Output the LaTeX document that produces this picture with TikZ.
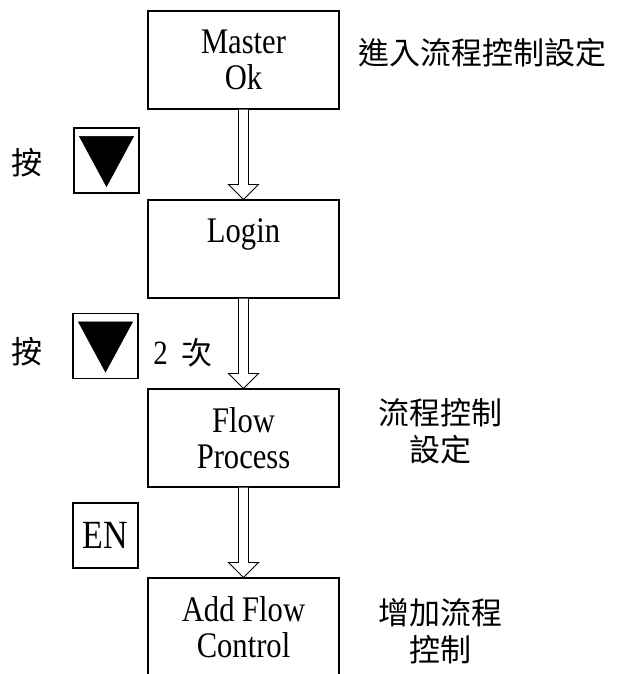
\documentclass[tikz,border=0pt]{standalone}
\usepackage{fontspec}
\setmainfont{Liberation Serif}[FakeStretch=0.85]
\newfontfamily\cjk{Noto Sans CJK TC}
\usetikzlibrary{calc}
\tikzset{
  box/.style={draw, line width=1.1pt, inner sep=0pt, align=center, minimum width=191pt, minimum height=98pt, font=\fontsize{36}{36}\selectfont},
  keybox/.style={draw, line width=1.1pt, inner sep=0pt, minimum width=65pt, minimum height=65pt, font=\fontsize{40}{40}\selectfont},
  cjklabel/.style={inner sep=0pt, align=center, font=\cjk\fontsize{31}{37}\selectfont},
  hollow/.style={draw, line width=0.9pt, fill=white, line join=miter},
  tri/.style={fill=black, draw=black, line width=0.5pt},
}
\newcommand\hollowarrow[2]{%
  \draw[hollow] ($(#1.south)+(-5,0)$) -- ($(#2.north)+(-5,-15)$) -- ($(#2.north)+(-15,-15)$) -- (#2.north) -- ($(#2.north)+(15,-15)$) -- ($(#2.north)+(5,-15)$) -- ($(#1.south)+(5,0)$);}
\newcommand\keytri[1]{%
  \fill[tri] ($(#1.north west)+(6,9)$) -- ($(#1.north east)+(-6,9)$) -- ($(#1.south)+(0,-7)$) -- cycle;}
\begin{document}
\begin{tikzpicture}[x=1pt,y=-1pt]
\useasboundingbox (0,0) rectangle (616,674);
\fill[white] (0,0) rectangle (616,674);
\node[box] (m) at (243.5,60) {Master\\Ok};
\node[box] (l) at (243.5,249) {Login\\\mbox{}};
\node[box] (f) at (243.5,438) {Flow\\Process};
\node[box] (a) at (243.5,627) {Add Flow\\Control};
\hollowarrow{m}{l}
\hollowarrow{l}{f}
\hollowarrow{f}{a}
\node[keybox] (k1) at (106.5,160.5) {};
\keytri{k1}
\node[keybox] (k2) at (105.5,346) {};
\keytri{k2}
\node[keybox] (en) at (105.5,535.5) {EN};
\node[cjklabel] (p1) at (27,163) {按};
\node[cjklabel] (p2) at (27,352) {按};
\node[inner sep=0pt] (t2) at (183,353) {\fontsize{34}{34}\selectfont 2\hspace{14pt}{\cjk\fontsize{31}{31}\selectfont 次}};
\node[cjklabel] (c1) at (482,53) {進入流程控制設定};
\node[cjklabel] (c2) at (440,431) {流程控制\\設定};
\node[cjklabel] (c3) at (440,631) {增加流程\\控制};
\end{tikzpicture}
\end{document}
